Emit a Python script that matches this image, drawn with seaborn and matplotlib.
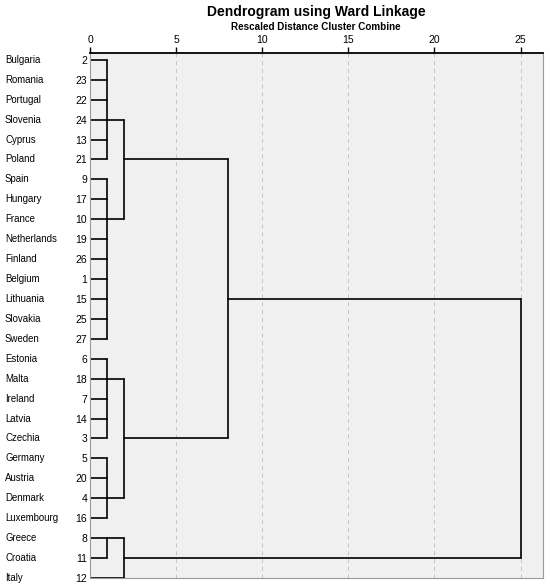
import matplotlib
matplotlib.use("Agg")
import matplotlib.pyplot as plt
import matplotlib.transforms as mtransforms
import pandas as pd
import seaborn as sns

# leaves in dendrogram order, with their SPSS case numbers
countries = ["Bulgaria", "Romania", "Portugal", "Slovenia", "Cyprus", "Poland",
             "Spain", "Hungary", "France", "Netherlands", "Finland", "Belgium",
             "Lithuania", "Slovakia", "Sweden", "Estonia", "Malta", "Ireland",
             "Latvia", "Czechia", "Germany", "Austria", "Denmark", "Luxembourg",
             "Greece", "Croatia", "Italy"]
case_ids = [2, 23, 22, 24, 13, 21, 9, 17, 10, 19, 26, 1, 15, 25, 27,
            6, 18, 7, 14, 3, 5, 20, 4, 16, 8, 11, 12]

# merge structure (rescaled distance)
cluster_names = ["A1", "A2", "A", "B1", "B2", "B", "AB", "C1", "C", "root"]
cluster_children = [
    ["Bulgaria", "Romania", "Portugal", "Slovenia", "Cyprus", "Poland"],
    ["Spain", "Hungary", "France", "Netherlands", "Finland", "Belgium",
     "Lithuania", "Slovakia", "Sweden"],
    ["A1", "A2"],
    ["Estonia", "Malta", "Ireland", "Latvia", "Czechia"],
    ["Germany", "Austria", "Denmark", "Luxembourg"],
    ["B1", "B2"],
    ["A", "B"],
    ["Greece", "Croatia"],
    ["C1", "Italy"],
    ["AB", "C"],
]
cluster_heights = [1, 1, 2, 1, 1, 2, 8, 1, 2, 25]
# leaf row where each cluster's joining line leaves
cluster_links = ["Slovenia", "France", "Poland", "Malta", "Denmark", "Czechia",
                 "Lithuania", "Greece", "Croatia", None]

row_of = {c: i for i, c in enumerate(countries)}
anchor = {c: (0, row_of[c]) for c in countries}
for name, h, link in zip(cluster_names, cluster_heights, cluster_links):
    anchor[name] = (h, row_of[link] if link else None)

rows = []
seg = 0
for name, kids, h in zip(cluster_names, cluster_children, cluster_heights):
    ys = []
    for k in kids:
        x0, y0 = anchor[k]
        rows += [{"seg": seg, "x": x0, "y": y0}, {"seg": seg, "x": h, "y": y0}]
        seg += 1
        ys.append(y0)
    rows += [{"seg": seg, "x": h, "y": min(ys)}, {"seg": seg, "x": h, "y": max(ys)}]
    seg += 1
segs = pd.DataFrame(rows)

sns.set_style("white", {"text.color": "black", "xtick.color": "black",
                        "ytick.color": "black", "axes.labelcolor": "black"})
plt.rcParams["font.family"] = ["Liberation Sans", "DejaVu Sans"]

fig = plt.figure(figsize=(5.5, 5.85), dpi=100)
ax = fig.add_axes([90 / 550, 7 / 585, 453 / 550, 525 / 585])
ax.set_facecolor("#f0f0f0")

sns.lineplot(data=segs, x="x", y="y", units="seg", estimator=None, sort=False,
             color="black", lw=1.2, ax=ax, legend=False)

ax.set_xlim(0, 26.3)
ax.set_ylim(25.1, -0.34)
ax.set_xlabel("")
ax.set_ylabel("")
ax.xaxis.tick_top()
ax.set_xticks([0, 5, 10, 15, 20, 25])
ax.tick_params(axis="x", length=4, width=1, pad=2, labelsize=7.5, color="black")
ax.grid(axis="x", ls=(0, (4, 4)), color="#c4c4c4", lw=0.7)
ax.set_axisbelow(True)

ax.set_yticks(range(len(countries)))
ax.set_yticklabels([str(c) for c in case_ids], fontsize=7.5)
ax.tick_params(axis="y", length=0, pad=2)

for side in ["left", "right", "bottom"]:
    ax.spines[side].set_color("#999999")
    ax.spines[side].set_linewidth(0.8)
ax.spines["top"].set_color("black")
ax.spines["top"].set_linewidth(1.3)

trans = mtransforms.blended_transform_factory(fig.transFigure, ax.transData)
for i, c in enumerate(countries):
    ax.text(5 / 550, i, c, transform=trans, ha="left", va="center", fontsize=6.9)

fig.text(316 / 550, 1 - 12 / 585, "Dendrogram using Ward Linkage",
         ha="center", va="center", fontsize=10, fontweight="bold")
fig.text(316 / 550, 1 - 27 / 585, "Rescaled Distance Cluster Combine",
         ha="center", va="center", fontsize=7.1, fontweight="bold")

fig.savefig("out.png", dpi=100)
